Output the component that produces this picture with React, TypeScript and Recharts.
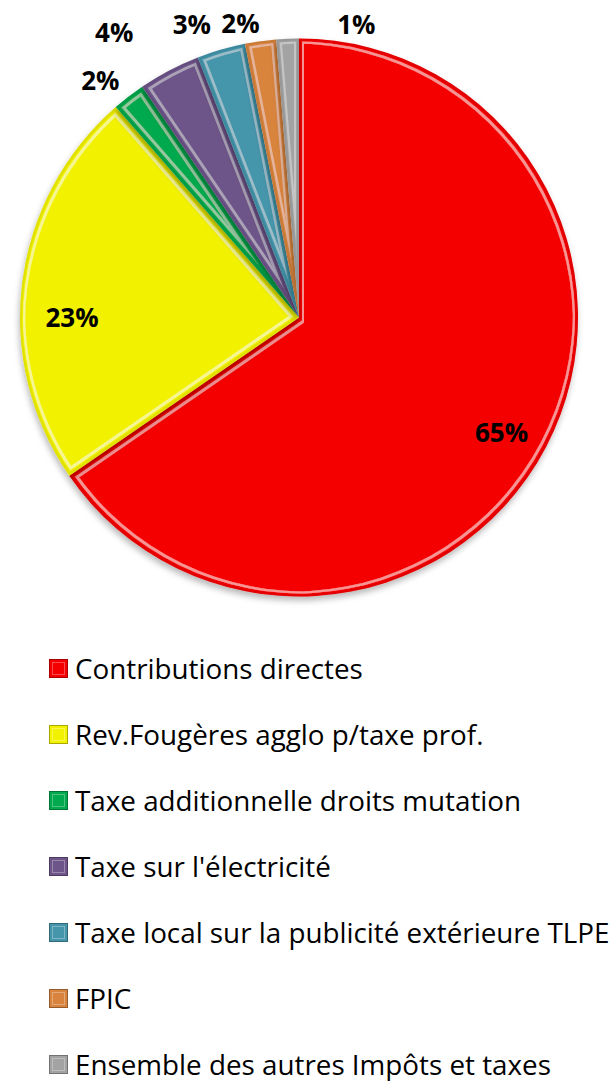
import React from 'react';
import { PieChart, Pie, Cell, Legend } from 'recharts';

const categories = [
  'Contributions directes',
  'Rev.Fougères agglo p/taxe prof.',
  'Taxe additionnelle droits mutation',
  "Taxe sur l'électricité",
  'Taxe local sur la publicité extérieure TLPE',
  'FPIC',
  'Ensemble des autres Impôts et taxes',
];
const shares = [65.4, 23.2, 1.9, 3.6, 2.8, 1.8, 1.3];
const labels = ['65%', '23%', '2%', '4%', '3%', '2%', '1%'];
const colors = ['#F40000', '#F2F200', '#00A94D', '#6E5589', '#4595AB', '#D8843E', '#A3A3A3'];

const data = categories.map((name, i) => ({ name, value: shares[i] }));

const RAD = Math.PI / 180;
const FONT = '"Open Sans", Lato, sans-serif';

const renderLabel = (props: any) => {
  const { cx, cy, midAngle, outerRadius, index } = props;
  const inside = index < 2;
  const r = inside ? outerRadius * 0.82 : outerRadius + 30;
  const nudge: [number, number][] = [[0, 8], [0, 28], [-10, 7], [-41, -12], [-21, 3], [-16, 12], [70, 15]];
  const x = cx + r * Math.cos(-midAngle * RAD) + nudge[index][0];
  const y = cy + r * Math.sin(-midAngle * RAD) + nudge[index][1];
  return (
    <text x={x} y={y} textAnchor="middle" dominantBaseline="central" fill="#000"
      fontFamily={FONT} fontWeight={700} fontSize={26}>
      {labels[index]}
    </text>
  );
};

const LegendContent = (props: any) => {
  const payload = props.payload || [];
  return (
    <div style={{ fontFamily: FONT, fontSize: 27.8, lineHeight: 1, color: '#000', textAlign: 'left', fontVariantLigatures: 'none' }}>
      {payload.map((p: any, i: number) => (
        <div key={i} style={{ height: 32, marginBottom: i < payload.length - 1 ? 34 : 0, display: 'flex', alignItems: 'center', whiteSpace: 'nowrap', lineHeight: 1 }}>
          <svg width={19} height={19} style={{ marginRight: 7, flex: 'none' }}>
            <rect x={0} y={0} width={19} height={19} fill={colors[i]} />
            <rect x={0.5} y={0.5} width={18} height={18} fill="none" stroke="rgba(0,0,0,0.3)" />
            <rect x={3.5} y={3.5} width={12} height={12} fill="none" stroke="rgba(255,255,255,0.3)" strokeWidth={1} />
          </svg>
          <span style={{ lineHeight: 1 }}>{categories[i]}</span>
        </div>
      ))}
    </div>
  );
};

export default function App() {
  return (
    <div style={{ position: 'absolute', top: 0, left: 0, width: 613, height: 1081 }}>
      <PieChart width={613} height={1081} margin={{ top: 0, right: 0, bottom: 0, left: 0 }}>
        <defs>
          <filter id="bevel" filterUnits="userSpaceOnUse" x={0} y={0} width={613} height={650}>
            <feMorphology in="SourceAlpha" operator="erode" radius={3} result="e1" />
            <feMorphology in="SourceAlpha" operator="erode" radius={4.5} result="e2" />
            <feComposite in="e1" in2="e2" operator="out" result="ring" />
            <feGaussianBlur in="ring" stdDeviation={0.5} result="ringb" />
            <feFlood floodColor="#ffffff" floodOpacity={0.3} />
            <feComposite in2="ringb" operator="in" result="hl" />
            <feMorphology in="SourceAlpha" operator="erode" radius={1.5} result="e0" />
            <feComposite in="SourceAlpha" in2="e0" operator="out" result="edge" />
            <feFlood floodColor="#000000" floodOpacity={0.15} />
            <feComposite in2="edge" operator="in" result="dark" />
            <feGaussianBlur in="SourceAlpha" stdDeviation={3} result="sb" />
            <feOffset in="sb" dx={-1} dy={4} result="so" />
            <feFlood floodColor="#000000" floodOpacity={0.28} />
            <feComposite in2="so" operator="in" result="shadow" />
            <feMerge>
              <feMergeNode in="shadow" />
              <feMergeNode in="SourceGraphic" />
              <feMergeNode in="dark" />
              <feMergeNode in="hl" />
            </feMerge>
          </filter>
        </defs>
        <Pie
          data={data}
          dataKey="value"
          nameKey="name"
          cx={299}
          cy={317.5}
          outerRadius={279}
          startAngle={90}
          endAngle={-270}
          label={renderLabel}
          labelLine={false}
          isAnimationActive={false}
          stroke="none"
        >
          {data.map((d, i) => (
            <Cell key={d.name} fill={colors[i]} stroke="none" filter="url(#bevel)" />
          ))}
        </Pie>
        <Legend
          layout="vertical"
          verticalAlign="bottom"
          align="center"
          content={<LegendContent />}
          wrapperStyle={{ position: 'absolute', top: 652.5, left: 49, width: 564, bottom: 'auto', height: 428 }}
        />
      </PieChart>
    </div>
  );
}
